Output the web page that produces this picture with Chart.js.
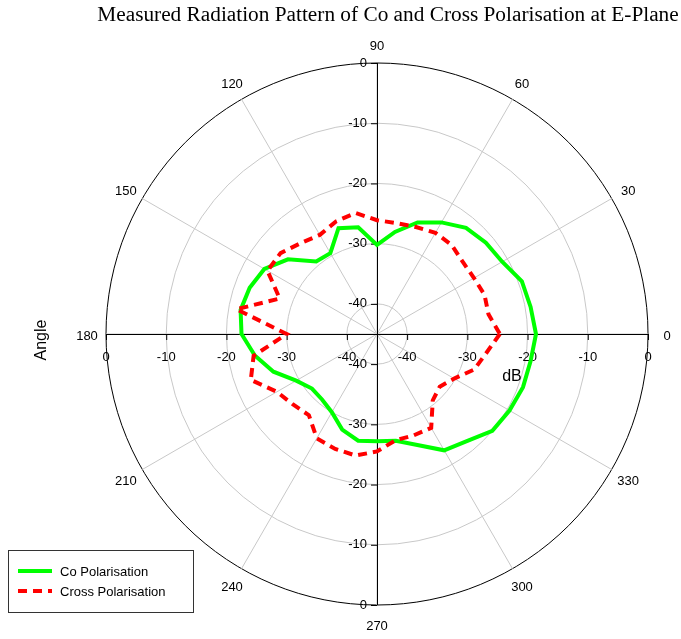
<!DOCTYPE html>
<html>
<head>
<meta charset="utf-8">
<script src="https://cdn.jsdelivr.net/npm/chart.js@4.4.1/dist/chart.umd.min.js"></script>
<style>
  body { margin: 0; background: #fff; }
  canvas { display: block; }
</style>
</head>
<body>
<canvas id="polar" width="681" height="639"></canvas>
<script>
// measurement angles (degrees, counter-clockwise from 0)
const angles = [0, 10, 20, 30, 40, 50, 60, 70, 80, 90, 100, 110, 120, 130, 140, 150, 160, 170,
  180, 190, 200, 210, 220, 230, 240, 250, 260, 270, 280, 290, 300, 310, 320, 330, 340, 350];
// co polarisation, dB
const coPol = [-18.6, -19.1, -19.4, -21.0, -21.4, -22.0, -23.6, -25.3, -27.8, -30.2, -27.0, -26.3,
  -29.5, -29.3, -25.7, -23.4, -22.5, -22.0, -22.5, -24.4, -26.7, -29.5, -30.9, -30.8,
  -30.0, -28.1, -27.0, -27.2, -27.0, -25.4, -22.7, -21.8, -20.0, -19.6, -19.2, -19.1];
// cross polarisation, dB
const crossPol = [-24.6, -26.2, -26.0, -26.4, -26.4, -25.7, -25.6, -26.1, -26.3, -26.1, -24.6, -25.1,
  -26.0, -25.3, -24.1, -24.0, -27.8, -21.3, -30.0, -24.2, -22.7, -25.8, -26.8, -27.4,
  -25.0, -24.7, -24.5, -25.5, -27.1, -27.1, -27.0, -30.6, -31.4, -30.2, -27.8, -26.6];
// tick labels
const radialTicks = [-40, -30, -20, -10, 0];
const angleTicks = [0, 30, 60, 90, 120, 150, 180, 210, 240, 270, 300, 330];

// chart.js goes clockwise, so walk the angles backwards
const order = angles.map((_, i) => (angles.length - i) % angles.length);
const labels = order.map(i => angles[i]);

const polarDecor = {
  id: 'polarDecor',
  beforeDatasetsDraw(chart) {
    const ctx = chart.ctx;
    const r = chart.scales.r;
    const cx = r.xCenter, cy = r.yCenter, R = r.drawingArea;
    ctx.save();
    // black axes through the centre
    ctx.strokeStyle = '#000';
    ctx.lineWidth = 1;
    ctx.beginPath();
    ctx.moveTo(cx - R, cy + 0.5); ctx.lineTo(cx + R, cy + 0.5);
    ctx.moveTo(cx + 0.5, cy - R); ctx.lineTo(cx + 0.5, cy + R);
    radialTicks.forEach(v => {
      const d = r.getDistanceFromCenterForValue(v);
      ctx.moveTo(cx - d + 0.5, cy); ctx.lineTo(cx - d + 0.5, cy + 6);
      ctx.moveTo(cx + d + 0.5, cy); ctx.lineTo(cx + d + 0.5, cy + 6);
      ctx.moveTo(cx - 6, cy - d + 0.5); ctx.lineTo(cx, cy - d + 0.5);
      ctx.moveTo(cx - 6, cy + d + 0.5); ctx.lineTo(cx, cy + d + 0.5);
    });
    ctx.stroke();
    // radial tick labels on all four half-axes
    ctx.fillStyle = '#000';
    ctx.font = '13px "Liberation Sans", Arial, sans-serif';
    radialTicks.forEach(v => {
      const d = r.getDistanceFromCenterForValue(v);
      ctx.textAlign = 'right';
      ctx.textBaseline = 'middle';
      ctx.fillText(String(v), cx - 10, cy - d);
      ctx.fillText(String(v), cx - 10, cy + d);
      ctx.textAlign = 'center';
      ctx.fillText(String(v), cx - d, cy + 23);
      ctx.fillText(String(v), cx + d, cy + 23);
    });
    // angle labels outside the ring
    ctx.textAlign = 'center';
    ctx.textBaseline = 'middle';
    angleTicks.forEach(a => {
      const p = r.getPointPosition(labels.indexOf(a), R + 19);
      ctx.fillText(String(a), p.x, p.y + 2);
    });
    ctx.restore();
  },
  afterDraw(chart) {
    const ctx = chart.ctx;
    ctx.save();
    ctx.fillStyle = '#000';
    ctx.textAlign = 'center';
    ctx.textBaseline = 'middle';
    ctx.font = '21.3px "Liberation Serif", "Times New Roman", serif';
    ctx.fillText('Measured Radiation Pattern of Co and Cross Polarisation at E-Plane', 388, 15);
    ctx.font = '16px "Liberation Sans", Arial, sans-serif';
    ctx.fillText('dB', 512, 377);
    ctx.save();
    ctx.translate(42, 340);
    ctx.rotate(-Math.PI / 2);
    ctx.fillText('Angle', 0, 0);
    ctx.restore();
    // legend
    ctx.strokeStyle = '#333';
    ctx.lineWidth = 1;
    ctx.strokeRect(8.5, 550.5, 185, 62);
    ctx.font = '13px "Liberation Sans", Arial, sans-serif';
    ctx.textAlign = 'left';
    chart.data.datasets.slice().reverse().forEach((ds, i) => {
      const y = 571 + i * 20;
      ctx.strokeStyle = ds.borderColor;
      ctx.lineWidth = ds.borderWidth;
      ctx.setLineDash(ds.borderDash || []);
      ctx.beginPath();
      ctx.moveTo(18, y); ctx.lineTo(52, y);
      ctx.stroke();
      ctx.setLineDash([]);
      ctx.fillStyle = '#000';
      ctx.fillText(ds.label, 60, y + 1);
    });
    ctx.restore();
  }
};

new Chart(document.getElementById('polar'), {
  type: 'radar',
  plugins: [polarDecor],
  data: {
    labels: labels,
    datasets: [
      {
        label: 'Cross Polarisation',
        data: order.map(i => crossPol[i]),
        borderColor: '#ff0000',
        borderWidth: 4,
        borderDash: [9, 6],
        fill: false,
        order: 0,
      },
      {
        label: 'Co Polarisation',
        data: order.map(i => coPol[i]),
        borderColor: '#00ff00',
        borderWidth: 4,
        fill: false,
        order: 1,
      },
    ],
  },
  options: {
    responsive: false,
    animation: false,
    layout: { padding: { left: 106, right: 33, top: 63, bottom: 34 } },
    elements: { point: { radius: 0, hoverRadius: 0 }, line: { tension: 0 } },
    plugins: {
      legend: { display: false },
      tooltip: { enabled: false },
    },
    scales: {
      r: {
        min: -45,
        max: 0,
        startAngle: 90,
        afterBuildTicks: s => { s.ticks = [-45].concat(radialTicks).map(v => ({ value: v })); },
        ticks: { display: false },
        pointLabels: { display: false },
        grid: {
          circular: true,
          color: c => (c.tick && c.tick.value === 0 ? '#000' : '#c8c8c8'),
          lineWidth: 1,
        },
        angleLines: {
          color: '#c8c8c8',
          lineWidth: c => (angleTicks.includes(labels[c.index]) ? 1 : 0),
        },
      },
    },
  },
});
</script>
</body>
</html>
